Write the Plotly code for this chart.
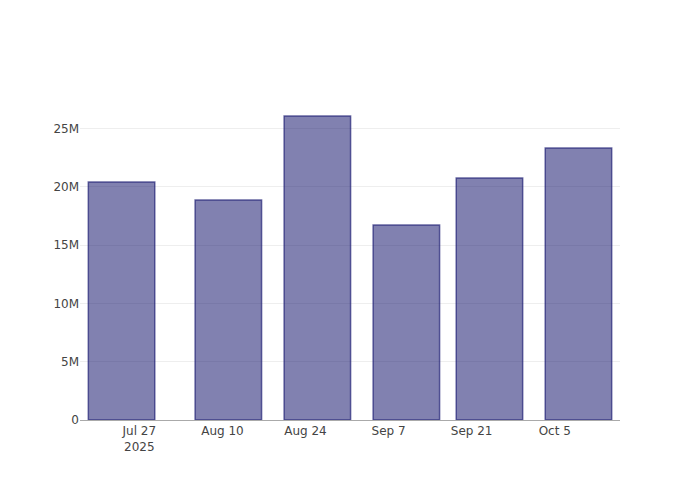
import plotly.graph_objects as go

dates = ["2025-07-24", "2025-08-11", "2025-08-26", "2025-09-10", "2025-09-24", "2025-10-09"]
values = [20.41e6, 18.87e6, 26.07e6, 16.72e6, 20.75e6, 23.32e6]

fig = go.Figure()
fig.add_trace(go.Bar(
    x=dates,
    y=values,
    marker=dict(color="rgba(25,25,112,0.55)",
                line=dict(color="rgba(25,25,112,0.65)", width=1.5)),
))
fig.update_layout(
    width=684, height=484,
    template="none",
    plot_bgcolor="white",
    paper_bgcolor="white",
    font=dict(family="DejaVu Sans, Verdana, sans-serif", size=12, color="#444"),
    margin=dict(l=72, r=72, t=92, b=72),
    showlegend=False,
    xaxis=dict(type="date", range=["2025-07-17", "2025-10-16"],
               showgrid=False, showline=True, linecolor="#aaa", linewidth=1,
               ticks="", zeroline=False),
    yaxis=dict(showgrid=True, gridcolor="#eee", zeroline=False, ticks="",
               showline=False),
)
fig.write_html("out.html")
